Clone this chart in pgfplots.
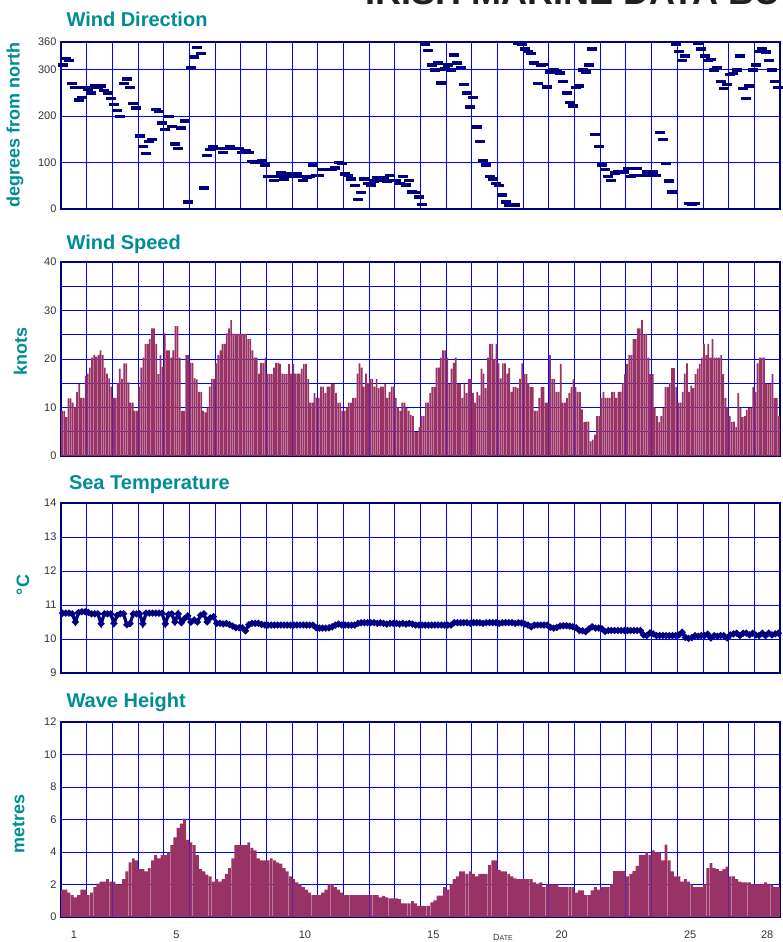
\documentclass[border=0pt]{standalone}
\usepackage{fontspec}
\setmainfont{Liberation Sans}
\usepackage{pgfplots}
\usepackage{pgfplotstable}
\pgfplotsset{compat=1.18}

\definecolor{navy}{RGB}{0,0,128}
\definecolor{gridblue}{RGB}{0,0,255}
\definecolor{barred}{RGB}{153,51,102}
\definecolor{headteal}{RGB}{0,140,150}
\definecolor{ticktext}{RGB}{51,51,51}

% wind direction, degrees, 3-hourly from day 0
\pgfplotstableread[row sep=\\]{v\\
310\\325\\320\\270\\262\\235\\240\\262\\258\\250\\
265\\262\\265\\255\\250\\238\\225\\212\\200\\270\\
280\\262\\228\\218\\157\\135\\120\\145\\150\\215\\
210\\185\\172\\200\\178\\140\\130\\175\\190\\15\\
305\\328\\348\\335\\45\\115\\128\\135\\130\\130\\
122\\130\\135\\130\\130\\130\\122\\125\\122\\102\\
100\\100\\105\\95\\70\\70\\62\\70\\78\\65\\
72\\75\\70\\75\\70\\62\\68\\70\\95\\72\\
72\\85\\85\\85\\85\\88\\100\\98\\75\\72\\
65\\50\\20\\35\\65\\55\\52\\60\\68\\62\\
68\\60\\72\\62\\62\\55\\70\\52\\62\\37\\
35\\26\\10\\355\\342\\310\\300\\315\\272\\302\\
310\\300\\332\\315\\305\\268\\250\\220\\240\\177\\
145\\105\\95\\70\\65\\55\\50\\30\\15\\9\\
9\\9\\358\\355\\345\\340\\335\\315\\270\\310\\
312\\263\\295\\300\\296\\293\\275\\250\\230\\222\\
262\\265\\300\\295\\310\\345\\160\\135\\95\\85\\
70\\62\\78\\80\\80\\80\\87\\70\\72\\87\\
72\\72\\80\\72\\80\\72\\165\\150\\98\\60\\
37\\355\\340\\320\\330\\12\\10\\12\\358\\345\\
330\\320\\322\\300\\305\\275\\260\\268\\290\\292\\
300\\330\\260\\238\\265\\300\\310\\340\\345\\338\\
320\\300\\275\\262\\
}\winddir

% wind speed, knots, 2-hourly
\pgfplotstableread[row sep=\\]{v\\
9.3\\9.3\\8\\11.9\\11.9\\11\\10\\13.2\\14.8\\12\\
12\\16.5\\17\\18.2\\20.3\\20.8\\20.5\\20.8\\21.8\\20.8\\
18.2\\17\\16\\14.3\\12\\12\\15\\18\\15.9\\19.1\\
19.1\\15.2\\11\\11\\9.3\\9.3\\14.3\\18.2\\20.3\\23.1\\
23.1\\24.1\\26.3\\26.3\\23.1\\16.9\\20.8\\18.4\\25.3\\21.8\\
21.8\\20.3\\21.8\\26.8\\26.8\\20.3\\9.3\\9.3\\20.8\\20.8\\
19.2\\19.2\\16\\15.8\\13.2\\13.2\\9.3\\9\\9.9\\14.3\\
15.9\\15.9\\19.1\\20.8\\21.8\\23.1\\23.1\\25.3\\26.3\\28\\
25.2\\25.2\\25.2\\25.2\\25.2\\25.2\\25.2\\24.1\\24.1\\21.8\\
20.3\\20.3\\17\\19.2\\19.2\\20.3\\17\\16.9\\16.9\\18.2\\
19.2\\19.2\\19\\17\\16.9\\16.9\\19\\17\\19\\17\\
17\\17\\18\\19\\19\\15.9\\11\\11\\13\\12\\
12\\14.3\\14.3\\13\\14.3\\14.3\\14.8\\14.8\\13\\11\\
11\\9.3\\9.3\\10\\11\\11\\12\\12\\17\\19.1\\
18.2\\14.3\\17\\15\\15.9\\15.9\\14.3\\15.9\\14\\14.3\\
14.3\\14.8\\12\\13.2\\14.3\\14.3\\12\\10\\9.3\\11\\
11\\9.9\\9.3\\8.5\\8.2\\4.9\\4.9\\6\\8.2\\8.2\\
11\\11\\13\\14.2\\14.2\\18.2\\18.2\\20.3\\21.8\\21.8\\
20.3\\14.8\\18\\19.2\\20.3\\14.8\\14.8\\12\\14.8\\13\\
15.9\\15.9\\13\\11\\13.2\\12.5\\18\\17\\14\\20.3\\
23.1\\23.1\\20\\23.1\\19.1\\16\\19.1\\19.1\\17\\18.1\\
13.2\\14.2\\14.2\\14\\15.9\\19.1\\16.9\\16.9\\15\\14.2\\
14.2\\9.3\\9.3\\12\\14.2\\14.2\\11\\11\\20.8\\15.9\\
15.9\\13.2\\13.2\\19\\11\\11\\12\\13\\14.2\\15.8\\
14.2\\13.2\\13.2\\9.6\\7\\7.1\\7.1\\3\\3.4\\4.4\\
8.2\\8.2\\12\\13.2\\12\\12\\12\\13.2\\13.2\\12\\
13.2\\13.2\\15\\16.9\\19\\20.8\\20.8\\24.1\\24.1\\26.3\\
26.3\\28\\25.2\\25.2\\20.3\\16.9\\16.9\\10\\8.2\\7\\
8.2\\9.9\\14.2\\14.2\\15\\18.1\\18.1\\14.2\\11\\11\\
13.2\\17\\19.1\\13.2\\14.5\\14\\16.9\\18\\19\\20.3\\
23.1\\20.8\\23.1\\20.3\\24.1\\20.3\\20.3\\20.3\\20.8\\16.9\\
12\\10\\8.2\\7\\7.1\\6\\13\\9.9\\8\\8.2\\
9.5\\9.9\\9.9\\14.2\\13.2\\19.1\\20.3\\20.3\\20.3\\14.8\\
14.8\\14.8\\16.9\\12\\12\\8.2\\
}\windspd

% sea temperature, deg C, 3-hourly
\pgfplotstableread[row sep=\\]{v\\
10.76\\10.76\\10.76\\10.74\\10.5\\10.78\\10.8\\10.8\\10.78\\10.74\\
10.74\\10.74\\10.45\\10.74\\10.74\\10.74\\10.46\\10.7\\10.74\\10.74\\
10.42\\10.45\\10.74\\10.74\\10.74\\10.45\\10.76\\10.76\\10.76\\10.76\\
10.76\\10.76\\10.45\\10.72\\10.74\\10.5\\10.74\\10.48\\10.6\\10.68\\
10.5\\10.56\\10.5\\10.7\\10.74\\10.5\\10.62\\10.66\\10.46\\10.46\\
10.44\\10.46\\10.42\\10.38\\10.33\\10.33\\10.33\\10.24\\10.42\\10.46\\
10.46\\10.46\\10.43\\10.41\\10.41\\10.41\\10.41\\10.41\\10.41\\10.41\\
10.41\\10.41\\10.41\\10.41\\10.41\\10.41\\10.41\\10.41\\10.41\\10.33\\
10.32\\10.32\\10.32\\10.33\\10.36\\10.41\\10.44\\10.41\\10.41\\10.41\\
10.41\\10.41\\10.46\\10.48\\10.48\\10.48\\10.48\\10.48\\10.46\\10.48\\
10.46\\10.44\\10.46\\10.46\\10.46\\10.44\\10.46\\10.44\\10.46\\10.44\\
10.41\\10.41\\10.41\\10.41\\10.41\\10.41\\10.41\\10.41\\10.41\\10.41\\
10.41\\10.41\\10.48\\10.48\\10.48\\10.48\\10.48\\10.46\\10.48\\10.48\\
10.48\\10.46\\10.48\\10.48\\10.48\\10.48\\10.46\\10.48\\10.48\\10.48\\
10.48\\10.46\\10.48\\10.47\\10.44\\10.41\\10.36\\10.41\\10.41\\10.41\\
10.41\\10.41\\10.34\\10.32\\10.34\\10.38\\10.39\\10.39\\10.38\\10.36\\
10.33\\10.25\\10.24\\10.22\\10.3\\10.36\\10.32\\10.32\\10.3\\10.22\\
10.25\\10.25\\10.25\\10.25\\10.25\\10.25\\10.25\\10.25\\10.25\\10.25\\
10.25\\10.12\\10.1\\10.18\\10.15\\10.1\\10.1\\10.1\\10.1\\10.1\\
10.1\\10.1\\10.12\\10.2\\10.05\\10.02\\10.04\\10.1\\10.08\\10.1\\
10.1\\10.14\\10.03\\10.1\\10.08\\10.1\\10.1\\10.03\\10.12\\10.15\\
10.17\\10.1\\10.17\\10.17\\10.12\\10.17\\10.12\\10.1\\10.17\\10.1\\
10.17\\10.12\\10.15\\10.17\\
}\seatemp

% wave height, metres, 3-hourly
\pgfplotstableread[row sep=\\]{v\\
1.68\\1.68\\1.5\\1.35\\1.2\\1.35\\1.68\\1.68\\1.35\\1.5\\
1.84\\2.05\\2.17\\2.17\\2.33\\2.17\\2.17\\2.0\\2.0\\2.33\\
2.8\\3.36\\3.6\\3.48\\2.95\\2.95\\2.8\\3.0\\3.48\\3.8\\
3.6\\3.8\\3.8\\3.97\\4.42\\4.9\\5.49\\5.75\\6.06\\4.75\\
4.59\\4.42\\3.8\\2.95\\2.8\\2.6\\2.5\\2.17\\2.33\\2.17\\
2.33\\2.66\\3.0\\3.6\\4.42\\4.42\\4.42\\4.42\\4.59\\4.26\\
4.1\\3.6\\3.48\\3.48\\3.48\\3.6\\3.48\\3.36\\3.28\\3.0\\
2.8\\2.5\\2.33\\2.13\\2.0\\1.84\\1.68\\1.5\\1.35\\1.35\\
1.35\\1.5\\1.68\\2.0\\2.0\\1.84\\1.68\\1.5\\1.35\\1.35\\
1.35\\1.35\\1.35\\1.35\\1.35\\1.35\\1.35\\1.35\\1.35\\1.2\\
1.3\\1.2\\1.15\\1.15\\1.15\\1.1\\0.84\\0.84\\0.84\\0.98\\
0.84\\0.68\\0.68\\0.68\\0.68\\0.9\\1.02\\1.31\\1.31\\1.84\\
1.68\\2.0\\2.33\\2.5\\2.8\\2.8\\2.66\\2.8\\2.66\\2.5\\
2.66\\2.66\\2.66\\3.2\\3.48\\3.48\\2.9\\2.8\\2.8\\2.66\\
2.5\\2.38\\2.33\\2.33\\2.33\\2.33\\2.33\\2.13\\2.05\\2.13\\
1.84\\2.0\\2.0\\2.0\\2.0\\1.84\\1.84\\1.84\\1.84\\1.84\\
1.5\\1.64\\1.64\\1.35\\1.35\\1.64\\1.84\\1.68\\1.84\\1.84\\
1.84\\2.0\\2.83\\2.83\\2.83\\2.83\\2.5\\2.66\\2.83\\3.15\\
3.8\\3.8\\3.97\\3.8\\4.1\\3.97\\3.97\\3.48\\4.46\\3.48\\
2.8\\2.5\\2.5\\2.17\\2.33\\2.17\\2.0\\1.84\\1.84\\1.84\\
2.0\\3.0\\3.32\\3.03\\2.95\\2.83\\2.95\\3.1\\2.5\\2.5\\
2.33\\2.17\\2.13\\2.13\\2.13\\2.0\\2.0\\2.0\\2.0\\2.13\\
2.0\\2.0\\1.84\\1.84\\
}\waveht

\pgfplotsset{
  buoy/.style={
    scale only axis, width=719pt, anchor=south west,
    xmin=0, xmax=28,
    xtick={0,1,...,28},
    xticklabels={,,,,,,,,,,,,,,,,,,,,,,,,,,,,},
    xmajorgrids=true, ymajorgrids=true,
    major tick length=0pt, minor tick length=0pt,
    axis line style={navy, line width=2.5pt},
    major grid style={gridblue, line width=0.9pt},
    minor grid style={gridblue, line width=0.9pt},
    tick label style={font=\fontsize{11}{11}\selectfont, text=ticktext},
    yticklabel style={xshift=-1pt},
    /pgf/number format/assume math mode=true,
  },
}
\tikzset{
  panelhead/.style={anchor=base west, text=headteal, font=\bfseries\fontsize{20}{20}\selectfont},
  sidelabel/.style={rotate=90, anchor=center, text=headteal, font=\bfseries\fontsize{18}{18}\selectfont},
}

\begin{document}
\begin{tikzpicture}[x=1pt, y=1pt]
\useasboundingbox (0,0) rectangle (782,942);

\node[anchor=base west, text={rgb,255:red,35;green,31;blue,32}, font=\bfseries\fontsize{36}{36}\selectfont]
  at (362,937.5) {IRISH MARINE DATA BUOYS};

% wind direction
\begin{axis}[buoy, at={(61pt,733pt)}, height=167pt,
  ymin=0, ymax=360, ytick={0,100,200,300,360}]
  \addplot[only marks, navy, mark=-, mark size=5pt, mark options={line width=3.4pt}]
    table[x expr=(\coordindex+0.5)/8, y=v] {\winddir};
\end{axis}

% wind speed
\begin{axis}[buoy, at={(61pt,486pt)}, height=194pt,
  ymin=0, ymax=40, ytick={0,10,20,30,40}, minor ytick={5,15,25,35}, yminorgrids=true]
  \addplot[ybar, bar width=1.7pt, fill=barred, draw=none]
    table[x expr=(\coordindex+0.5)/12, y=v] {\windspd};
\end{axis}

% sea temperature
\begin{axis}[buoy, at={(61pt,269pt)}, height=170pt,
  ymin=9, ymax=14, ytick={9,10,...,14}]
  \addplot[navy, line width=3.2pt, mark=*, mark size=1.5pt]
    table[x expr=(\coordindex+0.5)/8, y=v] {\seatemp};
\end{axis}

% wave height
\begin{axis}[buoy, at={(61pt,25pt)}, height=195pt,
  ymin=0, ymax=12, ytick={0,2,...,12},
  extra x ticks={0.5,4.5,9.5,14.5,19.5,24.5,27.5},
  extra x tick labels={1,5,10,15,20,25,28},
  extra x tick style={grid=none, xticklabel style={anchor=base, yshift=-21pt}}]
  \addplot[ybar, bar width=2.9pt, fill=barred, draw=none]
    table[x expr=(\coordindex+0.5)/8, y=v] {\waveht};
\end{axis}

\node[panelhead] at (63,915) {Wind Direction};
\node[panelhead] at (63,692.5) {Wind Speed};
\node[panelhead] at (65.5,452.7) {Sea Temperature};
\node[panelhead] at (63,234.3) {Wave Height};

\node[sidelabel] at (15,817) {degrees from north};
\node[sidelabel] at (20.5,590) {knots};
\node[sidelabel] at (23,357) {°C};
\node[sidelabel] at (18.5,118.5) {metres};

\node[anchor=north, text=ticktext, inner sep=0pt] at (503,8)
  {\fontsize{9}{9}\selectfont D\fontsize{7}{7}\selectfont ATE};
\end{tikzpicture}
\end{document}
